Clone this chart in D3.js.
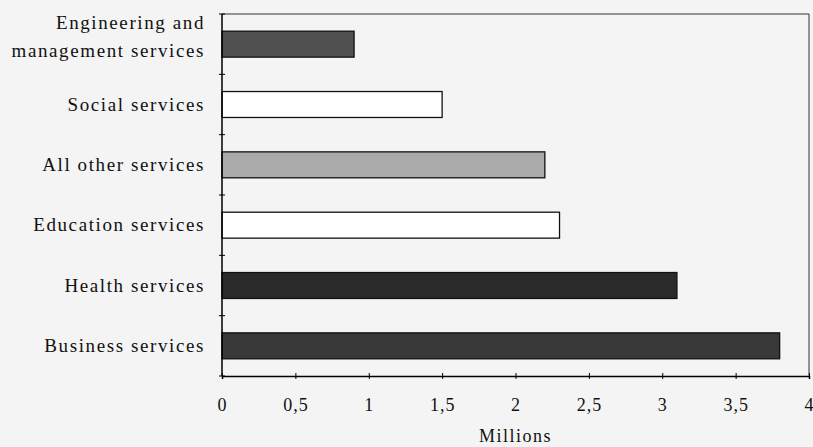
<!DOCTYPE html>
<html>
<head>
<meta charset="utf-8">
<script src="https://cdn.jsdelivr.net/npm/d3@7"></script>
<style>
  body { margin: 0; background: #f4f4f4; }
  svg { display: block; }
  text { font-family: "Liberation Serif", "DejaVu Serif", serif; fill: #111; }
</style>
</head>
<body>
<div id="container"></div>
<script>
const width = 813;
const height = 447;

// data, top to bottom as drawn
const categories = [
  "Engineering and management services",
  "Social services",
  "All other services",
  "Education services",
  "Health services",
  "Business services"
];
const values = [0.9, 1.5, 2.2, 2.3, 3.1, 3.8];
const fills = ["#505050", "#ffffff", "#aaaaaa", "#ffffff", "#2a2a2a", "#383838"];
const xTicks = [0, 0.5, 1, 1.5, 2, 2.5, 3, 3.5, 4];

const margin = { top: 14, right: 4, bottom: 71, left: 222 };
const innerW = width - margin.left - margin.right;
const innerH = height - margin.top - margin.bottom;

const svg = d3.select("#container")
  .append("svg")
  .attr("width", width)
  .attr("height", height);

const g = svg.append("g")
  .attr("transform", `translate(${margin.left},${margin.top})`);

const x = d3.scaleLinear().domain([0, 4]).range([0, innerW]);
const y = d3.scaleBand().domain(categories).range([0, innerH]).paddingInner(0.57).paddingOuter(0.285);

// frame top and right
g.append("line").attr("x1", 0).attr("x2", innerW).attr("y1", 0).attr("y2", 0)
  .attr("stroke", "#333").attr("stroke-width", 1);
g.append("line").attr("x1", innerW).attr("x2", innerW).attr("y1", 0).attr("y2", innerH)
  .attr("stroke", "#333").attr("stroke-width", 1);

// bars
g.selectAll("rect.bar")
  .data(categories)
  .enter()
  .append("rect")
  .attr("class", "bar")
  .attr("x", 0)
  .attr("y", (d) => y(d))
  .attr("width", (d, i) => x(values[i]))
  .attr("height", y.bandwidth())
  .attr("fill", (d, i) => fills[i])
  .attr("stroke", "#111")
  .attr("stroke-width", 1.3);

// y axis with ticks at band boundaries
const bounds = d3.range(categories.length + 1).map((i) => i * innerH / categories.length);
g.append("line").attr("x1", 0).attr("x2", 0).attr("y1", 0).attr("y2", innerH)
  .attr("stroke", "#000").attr("stroke-width", 1.5);
g.selectAll("line.ytick")
  .data(bounds)
  .enter()
  .append("line")
  .attr("class", "ytick")
  .attr("x1", -3).attr("x2", 3)
  .attr("y1", (d) => d).attr("y2", (d) => d)
  .attr("stroke", "#000");

// x axis
const xAxis = g.append("g")
  .attr("transform", `translate(0,${innerH})`)
  .call(d3.axisBottom(x).tickValues(xTicks).tickSize(3)
    .tickFormat((d) => String(d).replace(".", ",")));
xAxis.select(".domain").attr("stroke", "#000").attr("stroke-width", 1.5);
xAxis.selectAll(".tick line").attr("y1", -3).attr("y2", 3).attr("stroke", "#000");
xAxis.selectAll(".tick text")
  .attr("y", 22)
  .attr("dy", "0.71em")
  .style("font-size", "18px")
  .style("letter-spacing", "1px")
  .style("font-family", "'Liberation Serif', serif")
  .attr("fill", "#111");

// category labels
const labelLines = {
  "Engineering and management services": ["Engineering and", "management services"]
};
categories.forEach((c) => {
  const lines = labelLines[c] || [c];
  const cy = y(c) + y.bandwidth() / 2;
  const t = g.append("text")
    .attr("x", -17)
    .attr("text-anchor", "end")
    .style("font-size", "19px")
    .style("letter-spacing", "1.6px");
  lines.forEach((l, i) => {
    t.append("tspan")
      .attr("x", -17)
      .attr("y", cy + 6 + (i - (lines.length - 1) / 2) * 28 - (lines.length > 1 ? 7 : 0))
      .text(l);
  });
});

// x title
g.append("text")
  .attr("x", innerW / 2)
  .attr("y", innerH + 66)
  .attr("text-anchor", "middle")
  .style("font-size", "18px")
  .style("letter-spacing", "1.5px")
  .text("Millions");
</script>
</body>
</html>
